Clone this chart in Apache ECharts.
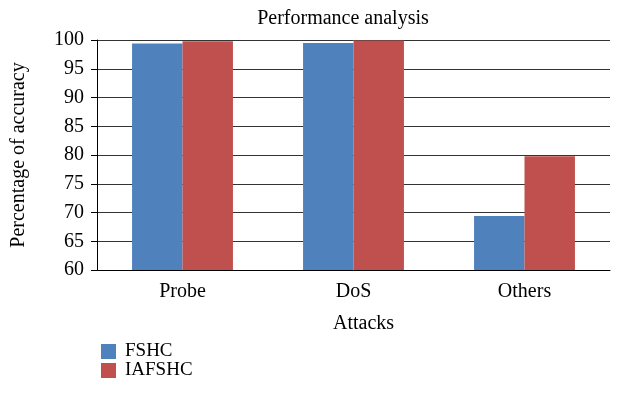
<!DOCTYPE html>
<html><head><meta charset="utf-8">
<script src="https://cdn.jsdelivr.net/npm/echarts@6/dist/echarts.min.js"></script>
<style>html,body{margin:0;padding:0;background:#fff}#c{width:620px;height:408px}</style>
</head><body><div id="c"></div>
<script>
const categories = ['Probe', 'DoS', 'Others'];
const fshc = [99.4, 99.5, 69.4];
const iafshc = [99.8, 99.9, 79.8];
const yTicks = [60, 65, 70, 75, 80, 85, 90, 95, 100];

const font = 'Liberation Serif';
const chart = echarts.init(document.getElementById('c'), null, {renderer: 'canvas'});
chart.setOption({
  animation: false,
  textStyle: {fontFamily: font, color: '#000'},
  title: {text: 'Performance analysis', left: 338, top: 4, textAlign: 'center',
    textStyle: {fontFamily: font, fontSize: 20, fontWeight: 'normal', color: '#000'}},
  grid: {left: 97, right: 10, top: 40, bottom: 138},
  legend: {orient: 'vertical', left: 96, top: 337, itemWidth: 15, itemHeight: 15, itemGap: 0,
    icon: 'rect',
    textStyle: {fontFamily: font, fontSize: 19, color: '#000', padding: [0, 0, 0, 4]},
    data: ['FSHC', 'IAFSHC']},
  xAxis: {type: 'category', data: categories, name: 'Attacks', nameLocation: 'middle', nameGap: 44,
    nameTextStyle: {fontFamily: font, fontSize: 20, color: '#000', padding: [0, 0, 0, 20]},
    axisLine: {lineStyle: {color: '#000', width: 1}}, axisTick: {show: false},
    axisLabel: {fontFamily: font, fontSize: 20, color: '#000', margin: 12}},
  yAxis: {type: 'value', min: yTicks[0], max: yTicks[yTicks.length - 1], interval: 5,
    name: 'Percentage of accuracy', nameLocation: 'middle', nameGap: 68,
    nameTextStyle: {fontFamily: font, fontSize: 20, color: '#000'},
    axisLine: {show: true, lineStyle: {color: '#000', width: 1}},
    axisTick: {show: true, length: 6, lineStyle: {color: '#000'}},
    axisLabel: {fontFamily: font, fontSize: 20, color: '#000', margin: 13},
    splitLine: {lineStyle: {color: '#333', width: 1}}},
  series: [
    {name: 'FSHC', type: 'bar', data: fshc, barGap: '0%', barCategoryGap: '41%',
      itemStyle: {color: '#4F81BD'}},
    {name: 'IAFSHC', type: 'bar', data: iafshc, barGap: '0%', barCategoryGap: '41%',
      itemStyle: {color: '#C0504D'}}
  ]
});
</script></body></html>
